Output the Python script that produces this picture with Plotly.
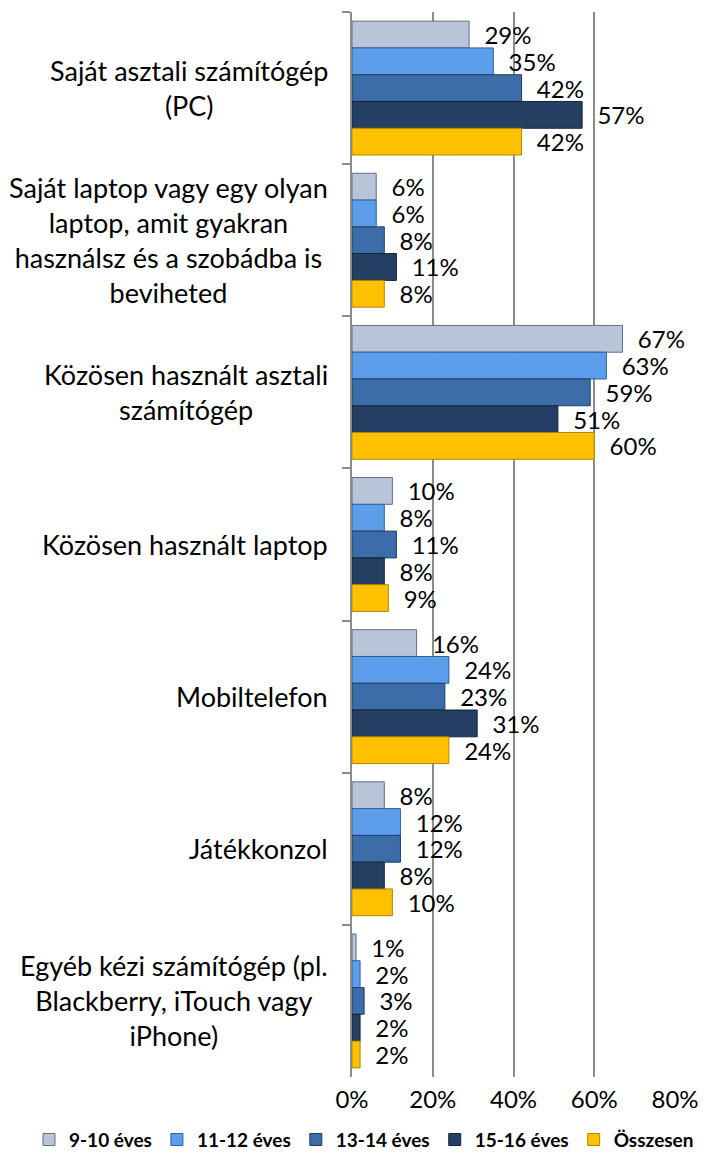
import plotly.graph_objects as go

categories = [
    "Saját asztali számítógép<br>(PC)",
    "Saját laptop vagy egy olyan<br>laptop, amit gyakran<br>használsz és a szobádba is<br>beviheted",
    "Közösen használt asztali<br>számítógép",
    "Közösen használt laptop",
    "Mobiltelefon",
    "Játékkonzol",
    "Egyéb kézi számítógép (pl.<br>Blackberry, iTouch vagy<br>iPhone)",
]
series_names = ["9-10 éves", "11-12 éves", "13-14 éves", "15-16 éves", "Összesen"]
age_9_10 = [29, 6, 67, 10, 16, 8, 1]
age_11_12 = [35, 6, 63, 8, 24, 12, 2]
age_13_14 = [42, 8, 59, 11, 23, 12, 3]
age_15_16 = [57, 11, 51, 8, 31, 8, 2]
total = [42, 8, 60, 9, 24, 10, 2]
tick_vals = [0, 20, 40, 60, 80]
tick_text = ["0%", "20%", "40%", "60%", "80%"]

series_values = [age_9_10, age_11_12, age_13_14, age_15_16, total]
fills = ["#BAC4D9", "#5C9EEA", "#3C6DA8", "#253F62", "#FFC000"]
edges = ["#5E6E8C", "#2F5F9E", "#1F3F66", "#13243A", "#B38600"]

FONT = "Lato"

fig = go.Figure()
for name, vals, fc, ec in zip(series_names, series_values, fills, edges):
    fig.add_trace(go.Bar(
        name=name,
        y=categories,
        x=vals,
        orientation="h",
        marker=dict(color=fc, line=dict(color=ec, width=1)),
        text=["  %d%%" % v for v in vals],
        textposition="outside",
        textfont=dict(family=FONT, size=24, color="#000000"),
        constraintext="none",
        cliponaxis=False,
    ))

for cat in categories:
    fig.add_annotation(
        x=0, xref="paper", xanchor="right", xshift=-22,
        y=cat, yref="y", yanchor="middle",
        text=cat, showarrow=False, align="center",
        font=dict(family=FONT, size=27, color="#000000"),
    )

# page body adds an 8px offset, so the figure is 8px smaller than the window
fig.update_layout(
    width=704, height=1145,
    margin=dict(l=344, r=37, t=4, b=76, autoexpand=False),
    plot_bgcolor="#FFFFFF", paper_bgcolor="#FFFFFF",
    barmode="group", bargap=0.12, bargroupgap=0,
    showlegend=True,
    legend=dict(
        orientation="h", xref="paper", yref="paper",
        x=-1.0, xanchor="left", y=-0.041, yanchor="top",
        font=dict(family=FONT, size=19, color="#000000", weight="bold"),
        itemwidth=30, tracegroupgap=0, borderwidth=0,
        traceorder="normal",
    ),
    xaxis=dict(
        range=[0, 80], tickvals=tick_vals, ticktext=tick_text,
        showgrid=True, gridcolor="#8C8C8C", gridwidth=1.5,
        zeroline=False, showline=False, ticks="",
        tickfont=dict(family=FONT, size=24, color="#000000"),
        ticklabelstandoff=6,
        fixedrange=True,
    ),
    yaxis=dict(
        autorange="reversed", showticklabels=False,
        ticks="outside", tickson="boundaries", ticklen=8,
        tickcolor="#8C8C8C", tickwidth=1.5,
        showline=True, linecolor="#8C8C8C", linewidth=1.5,
        showgrid=False, fixedrange=True,
    ),
)

fig.write_html("out.html")
